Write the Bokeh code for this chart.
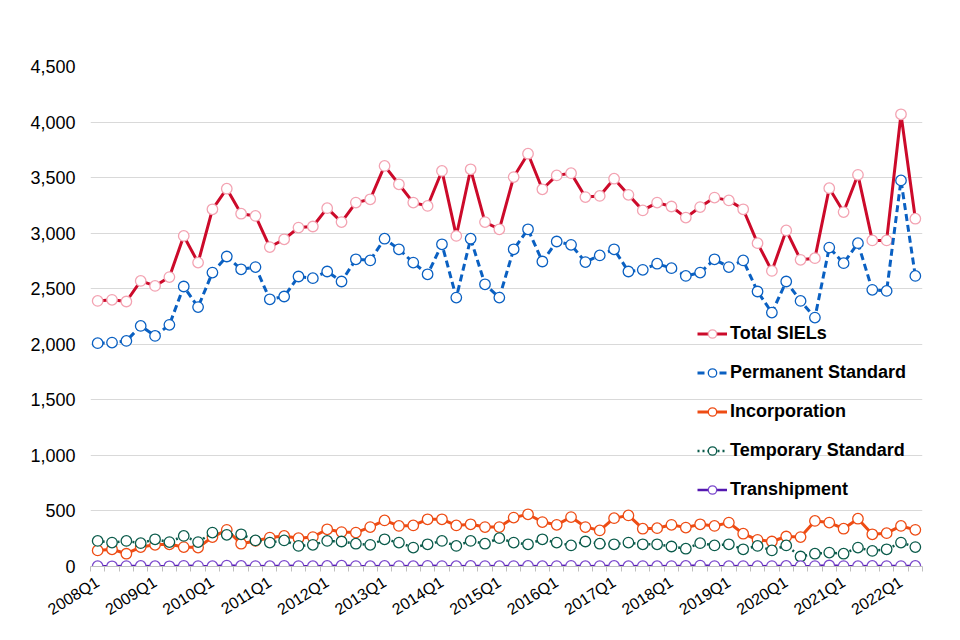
from bokeh.plotting import figure
from bokeh.models import FixedTicker, Range1d, Legend, LegendItem, NumeralTickFormatter
from bokeh.embed import file_html
from bokeh.resources import INLINE

quarters = [
    "2008Q1", "2008Q2", "2008Q3", "2008Q4", "2009Q1", "2009Q2", "2009Q3", "2009Q4",
    "2010Q1", "2010Q2", "2010Q3", "2010Q4", "2011Q1", "2011Q2", "2011Q3", "2011Q4",
    "2012Q1", "2012Q2", "2012Q3", "2012Q4", "2013Q1", "2013Q2", "2013Q3", "2013Q4",
    "2014Q1", "2014Q2", "2014Q3", "2014Q4", "2015Q1", "2015Q2", "2015Q3", "2015Q4",
    "2016Q1", "2016Q2", "2016Q3", "2016Q4", "2017Q1", "2017Q2", "2017Q3", "2017Q4",
    "2018Q1", "2018Q2", "2018Q3", "2018Q4", "2019Q1", "2019Q2", "2019Q3", "2019Q4",
    "2020Q1", "2020Q2", "2020Q3", "2020Q4", "2021Q1", "2021Q2", "2021Q3", "2021Q4",
    "2022Q1", "2022Q2",
]

total = [2390, 2400, 2385, 2570, 2525, 2605, 2975, 2735, 3215, 3400, 3175, 3155,
         2875, 2945, 3050, 3060, 3225, 3100, 3275, 3305, 3605, 3440, 3275, 3245,
         3560, 2975, 3575, 3100, 3035, 3505, 3715, 3395, 3520, 3540, 3325, 3335,
         3490, 3345, 3205, 3275, 3240, 3140, 3235, 3320, 3295, 3215, 2910, 2660,
         3025, 2760, 2775, 3405, 3190, 3525, 2935, 2935, 4070, 3130]

permanent = [2010, 2015, 2030, 2165, 2075, 2175, 2520, 2335, 2645, 2790, 2675, 2695,
             2405, 2430, 2610, 2595, 2655, 2565, 2765, 2755, 2950, 2855, 2735, 2630,
             2900, 2420, 2950, 2540, 2420, 2855, 3035, 2745, 2925, 2895, 2740, 2800,
             2855, 2655, 2670, 2725, 2685, 2615, 2645, 2765, 2695, 2755, 2475, 2285,
             2565, 2390, 2240, 2870, 2730, 2910, 2490, 2480, 3475, 2615]

incorporation = [145, 155, 115, 175, 195, 200, 175, 170, 265, 330, 205, 230,
                 260, 275, 255, 265, 335, 310, 305, 355, 415, 365, 370, 425,
                 425, 370, 380, 355, 355, 440, 470, 400, 375, 445, 355, 325,
                 435, 460, 340, 345, 375, 350, 380, 365, 395, 295, 240, 225,
                 270, 265, 410, 395, 340, 430, 290, 300, 365, 330]

temporary = [230, 215, 230, 210, 245, 220, 275, 220, 305, 285, 290, 235,
             215, 235, 185, 195, 230, 225, 205, 195, 245, 215, 170, 200,
             230, 185, 230, 205, 255, 215, 200, 245, 215, 190, 225, 205,
             200, 215, 200, 200, 180, 160, 210, 190, 200, 155, 185, 145,
             190, 90, 115, 125, 115, 170, 140, 155, 215, 175]

transhipment = [3, 2, 4, 5, 3, 2, 6, 4, 3, 8, 5, 4,
                3, 6, 4, 3, 5, 7, 4, 3, 5, 4, 3, 6,
                4, 3, 5, 4, 3, 4, 5, 3, 4, 6, 3, 4,
                5, 3, 4, 3, 4, 5, 8, 4, 3, 4, 3, 4,
                5, 3, 4, 9, 4, 3, 5, 4, 4, 5]

x = list(range(len(quarters)))

p = figure(width=944, height=634, output_backend="svg", toolbar_location=None,
           x_range=Range1d(-0.5, len(quarters) - 0.5), y_range=Range1d(0, 4500),
           min_border_left=90, min_border_right=22, min_border_top=66, min_border_bottom=68)
p.outline_line_color = None
p.background_fill_color = "white"

# axes
p.yaxis.ticker = FixedTicker(ticks=list(range(0, 4501, 500)))
p.yaxis.formatter = NumeralTickFormatter(format="0,0")
p.yaxis.axis_line_color = None
p.yaxis.major_tick_line_color = None
p.yaxis.minor_tick_line_color = None
p.yaxis.major_label_text_font = "Liberation Sans"
p.yaxis.major_label_text_font_size = "18px"
p.yaxis.major_label_text_color = "#000000"
p.yaxis.major_label_standoff = 9

label_idx = list(range(0, len(quarters), 4))
p.xaxis.ticker = FixedTicker(ticks=label_idx, minor_ticks=[i - 0.5 for i in range(len(quarters) + 1)])
p.xaxis.major_label_overrides = {i: quarters[i] for i in label_idx}
p.xaxis.major_label_orientation = 0.56
p.xaxis.major_label_text_font = "Liberation Sans"
p.xaxis.major_label_text_font_size = "16px"
p.xaxis.major_label_text_color = "#000000"
p.xaxis.axis_line_color = "#BFBFBF"
p.xaxis.major_tick_out = 0
p.xaxis.major_tick_in = 0
p.xaxis.minor_tick_out = 5
p.xaxis.minor_tick_in = 0
p.xaxis.minor_tick_line_color = "#BFBFBF"
p.xaxis.major_label_standoff = 9

p.xgrid.grid_line_color = None
p.ygrid.grid_line_color = "#D9D9D9"
p.ygrid.grid_line_width = 1

series = [
    ("Total SIELs", total, "#CC0A2A", "#F3A3B2", None, 3),
    ("Permanent Standard", permanent, "#0A60C2", "#0A60C2", "7 4", 3),
    ("Incorporation", incorporation, "#EE4C14", "#EE4C14", None, 3),
    ("Temporary Standard", temporary, "#0B5B4B", "#0B5B4B", "2 3", 2.5),
    ("Transhipment", transhipment, "#5418B0", "#7A48CC", None, 2.5),
]

items = []
for name, vals, lc, mc, dash, lw in series:
    kw = {}
    if dash:
        kw["line_dash"] = dash
    ln = p.line(x, vals, line_color=lc, line_width=lw, **kw)
    sc = p.scatter(x, vals, size=10.5, marker="circle", fill_color="white",
                   line_color=mc, line_width=1.3)
    items.append(LegendItem(label=name, renderers=[ln, sc]))

legend = Legend(items=items, location=(607, 66), background_fill_alpha=0,
                border_line_color=None, padding=0, margin=0, spacing=18,
                glyph_width=30, glyph_height=21, label_height=21, label_standoff=3,
                label_text_font="Liberation Sans", label_text_font_style="bold",
                label_text_font_size="18px", label_text_color="#000000")
p.add_layout(legend)

open("out.html", "w").write(file_html(p, INLINE))
